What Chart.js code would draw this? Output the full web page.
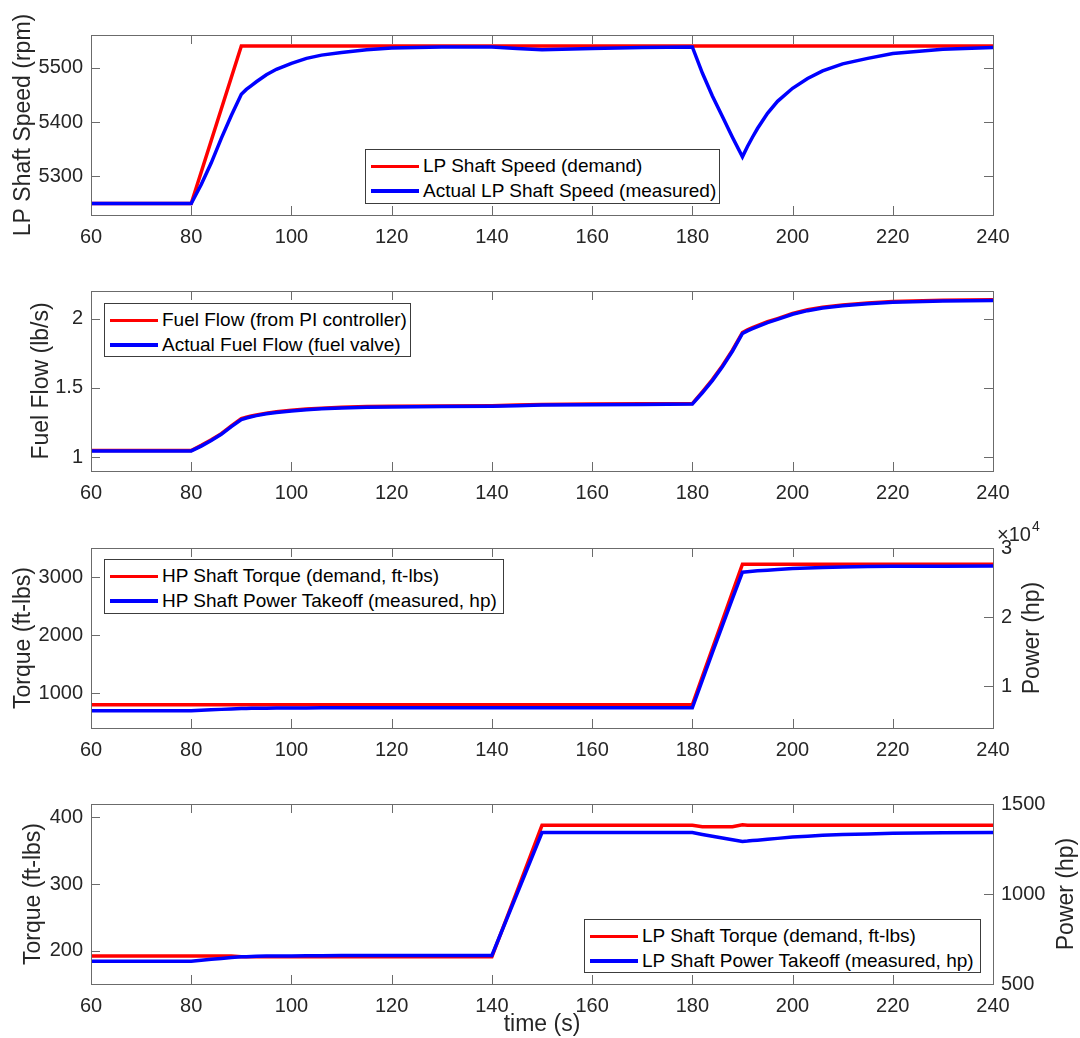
<!DOCTYPE html>
<html>
<head>
<meta charset="utf-8">
<script src="https://cdn.jsdelivr.net/npm/chart.js@4.4.1/dist/chart.umd.min.js"></script>
<style>
body { margin: 0; width: 1080px; height: 1038px; overflow: hidden; background: #fff; position: relative;
       font-family: "Liberation Sans", Arial, Helvetica, sans-serif; }
.legend { position: absolute; box-sizing: border-box; border: 1px solid #3c3c3c; background: #fff;
          padding-top: 4px; font-size: 19px; color: #000; z-index: 5; }
.legend .row { display: flex; align-items: center; height: 24.5px; padding-left: 5px; white-space: nowrap; }
.legend .swatch { width: 48px; height: 3.5px; margin-right: 4px; flex: none; }
</style>
</head>
<body>
<script>
// sample times (s), shared by every series
const time = [60, 80, 82, 84, 86, 88, 90, 91, 92, 93, 95, 97, 100, 103, 106, 110, 115, 120, 130, 140,
              145, 150, 160, 170, 180, 182, 184, 186, 188, 190, 191, 192, 193, 195, 197, 200, 203, 206,
              210, 215, 220, 230, 240];

const speedLabels = ['LP Shaft Speed (demand)', 'Actual LP Shaft Speed (measured)'];
const speedDemand = [5250, 5250, 5308, 5366, 5424, 5482, 5540, 5540, 5540, 5540, 5540, 5540, 5540, 5540,
                     5540, 5540, 5540, 5540, 5540, 5540, 5540, 5540, 5540, 5540, 5540, 5540, 5540, 5540,
                     5540, 5540, 5540, 5540, 5540, 5540, 5540, 5540, 5540, 5540, 5540, 5540, 5540, 5540, 5540];
const speedActual = [5250, 5250, 5285, 5325, 5370, 5412, 5451, 5460, 5467, 5474, 5487, 5497, 5508, 5517,
                     5523, 5528, 5533, 5536, 5538, 5538, 5535, 5533, 5535, 5537, 5538, 5490, 5448, 5410,
                     5372, 5336, 5355, 5372, 5388, 5416, 5438, 5462, 5480, 5494, 5507, 5517, 5526, 5534, 5537];

const fuelLabels = ['Fuel Flow (from PI controller)', 'Actual Fuel Flow (fuel valve)'];
const fuelDemand = [1.048, 1.048, 1.085, 1.125, 1.17, 1.226, 1.278, 1.289, 1.297, 1.305, 1.318, 1.328, 1.338,
                    1.347, 1.354, 1.36, 1.365, 1.368, 1.37, 1.372, 1.376, 1.38, 1.383, 1.385, 1.387, 1.472,
                    1.56, 1.66, 1.773, 1.9, 1.919, 1.935, 1.95, 1.978, 2.001, 2.038, 2.064, 2.083, 2.099,
                    2.114, 2.124, 2.133, 2.137];
const fuelActual = [1.045, 1.045, 1.08, 1.12, 1.165, 1.22, 1.272, 1.283, 1.292, 1.3, 1.313, 1.323, 1.333,
                    1.342, 1.349, 1.355, 1.36, 1.363, 1.366, 1.368, 1.372, 1.376, 1.379, 1.381, 1.383, 1.465,
                    1.553, 1.652, 1.765, 1.893, 1.912, 1.928, 1.943, 1.972, 1.995, 2.032, 2.058, 2.077, 2.093,
                    2.108, 2.118, 2.127, 2.131];

const hpLabels = ['HP Shaft Torque (demand, ft-lbs)', 'HP Shaft Power Takeoff (measured, hp)'];
const hpTorque = [800, 800, 800, 800, 800, 800, 800, 800, 800, 800, 800, 800, 800, 800, 800, 800, 800, 800,
                  800, 800, 800, 800, 800, 800, 800, 1284, 1768, 2252, 2736, 3220, 3220, 3220, 3220, 3220,
                  3220, 3220, 3220, 3220, 3220, 3220, 3220, 3220, 3220];
const hpPower = [6500, 6500, 6560, 6620, 6690, 6760, 6810, 6820, 6840, 6850, 6870, 6885, 6900, 6905, 6910,
                 6915, 6918, 6920, 6920, 6920, 6920, 6920, 6920, 6920, 6920, 10900, 14900, 18800, 22700,
                 26500, 26570, 26640, 26700, 26800, 26900, 27030, 27120, 27190, 27260, 27310, 27350, 27380, 27400];

const lpLabels = ['LP Shaft Torque (demand, ft-lbs)', 'LP Shaft Power Takeoff (measured, hp)'];
const lpTorque = [192, 192, 192, 192, 192, 192, 191, 191, 191, 191, 191, 191, 191, 191, 191, 191, 191, 191,
                  191, 191, 289, 388, 388, 388, 388, 386, 386, 386, 386, 389, 388, 388, 388, 388, 388, 388,
                  388, 388, 388, 388, 388, 388, 388];
const lpPower = [627, 627, 632, 637, 642, 647, 651, 652, 653, 654, 655, 655, 656, 657, 657, 658, 658, 659, 659,
                 659, 1000, 1341, 1341, 1341, 1341, 1331, 1321, 1311, 1301, 1292, 1294, 1297, 1299, 1304, 1309,
                 1316, 1321, 1326, 1330, 1334, 1337, 1340, 1341];

const xTicks = [60, 80, 100, 120, 140, 160, 180, 200, 220, 240];
const speedTicks = [5300, 5400, 5500];
const fuelTicks = [1, 1.5, 2];
const hpTorqueTicks = [1000, 2000, 3000];
const hpPowerTicks = [10000, 20000, 30000];
const lpTorqueTicks = [200, 300, 400];
const lpPowerTicks = [500, 1000, 1500];

const RED = '#ff0000';
const BLUE = '#0000ff';
const INK = '#262626';
const EDGE = '#6b6b6b';
Chart.defaults.font.family = '"Liberation Sans", Arial, Helvetica, sans-serif';
Chart.defaults.color = INK;

const series = values => time.map((t, i) => ({ x: t, y: values[i] }));

const line = (label, values, color, axis, order) => ({
    label, data: series(values), borderColor: color, backgroundColor: color,
    borderWidth: 3.5, pointRadius: 0, tension: 0, yAxisID: axis, order
});

const xScale = (h, title) => ({
    type: 'linear', min: 60, max: 240,
    grid: { display: false, drawTicks: false }, border: { display: false },
    afterBuildTicks: s => { s.ticks = xTicks.map(v => ({ value: v })); },
    afterFit: s => { s.height = h; },
    ticks: { callback: v => String(v), font: { size: 20 }, color: INK, padding: 10, maxRotation: 0, autoSkip: false },
    title: title ? { display: true, text: title, font: { size: 23 }, color: INK, padding: { top: 0, bottom: 0 } }
                 : { display: false }
});

const yScale = (position, min, max, values, title, pad, fmt) => ({
    type: 'linear', position, min, max,
    grid: { display: false, drawTicks: false }, border: { display: false },
    afterBuildTicks: s => { s.ticks = values.map(v => ({ value: v })); },
    afterFit: s => { s.width = position === 'left' ? 91 : 87; },
    ticks: { callback: fmt || (v => String(v)), font: { size: 20 }, color: INK, padding: 8, autoSkip: false },
    title: title ? { display: true, text: title, font: { size: 23 }, color: INK, padding: { top: pad, bottom: 0 } }
                 : { display: false }
});

// MATLAB style box, inward ticks, right-hand label and exponent
const matlabAxes = {
    id: 'matlab',
    afterDatasetsDraw(chart, args, opts) {
        const { ctx, chartArea: a } = chart;
        const len = 9;
        const x = chart.scales.x, yl = chart.scales.y, yr = chart.scales.y1;
        ctx.save();
        ctx.strokeStyle = EDGE;
        ctx.lineWidth = 1;
        ctx.beginPath();
        x.ticks.forEach(t => {
            const px = Math.round(x.getPixelForValue(t.value)) + 0.5;
            ctx.moveTo(px, a.bottom); ctx.lineTo(px, a.bottom - len);
            ctx.moveTo(px, a.top); ctx.lineTo(px, a.top + len);
        });
        yl.ticks.forEach(t => {
            const py = Math.round(yl.getPixelForValue(t.value)) + 0.5;
            ctx.moveTo(a.left, py); ctx.lineTo(a.left + len, py);
            if (!yr) { ctx.moveTo(a.right, py); ctx.lineTo(a.right - len, py); }
        });
        if (yr) {
            yr.ticks.forEach(t => {
                const py = Math.round(yr.getPixelForValue(t.value)) + 0.5;
                ctx.moveTo(a.right, py); ctx.lineTo(a.right - len, py);
            });
        }
        ctx.stroke();
        ctx.strokeRect(a.left + 0.5, a.top + 0.5, a.right - a.left, a.bottom - a.top);

        ctx.fillStyle = INK;
        if (opts.rightTitle) {
            ctx.translate(a.right + opts.rightOffset, (a.top + a.bottom) / 2);
            ctx.rotate(-Math.PI / 2);
            ctx.font = '23px "Liberation Sans", Arial, sans-serif';
            ctx.textAlign = 'center';
            ctx.textBaseline = 'middle';
            ctx.fillText(opts.rightTitle, 0, 0);
            ctx.setTransform(1, 0, 0, 1, 0, 0);
        }
        if (opts.exponent) {
            ctx.textAlign = 'left';
            ctx.textBaseline = 'alphabetic';
            ctx.font = '20px "Liberation Sans", Arial, sans-serif';
            const base = '\u00d710';
            ctx.fillText(base, a.right + 4, a.top - 7);
            const w = ctx.measureText(base).width;
            ctx.font = '14px "Liberation Sans", Arial, sans-serif';
            ctx.fillText(opts.exponent, a.right + 5 + w, a.top - 17);
        }
        ctx.restore();
    }
};

function panel(top, height) {
    const c = document.createElement('canvas');
    c.width = 1080;
    c.height = height;
    c.style.cssText = `position:absolute;left:0;top:${top}px;`;
    document.body.appendChild(c);
    return c.getContext('2d');
}

function makeChart(ctx, datasets, scales, padRight, matlab) {
    return new Chart(ctx, {
        type: 'line',
        data: { datasets },
        options: {
            responsive: false,
            animation: false,
            devicePixelRatio: 1,
            layout: { padding: { top: 30, left: 0, bottom: 0, right: padRight } },
            scales,
            plugins: { legend: { display: false }, tooltip: { enabled: false }, matlab: matlab || {} }
        },
        plugins: [matlabAxes]
    });
}

function addLegend(chart, left, top, width, height) {
    const box = document.createElement('div');
    box.className = 'legend';
    box.style.cssText = `left:${left}px;top:${top}px;width:${width}px;height:${height}px;`;
    [...chart.data.datasets].sort((p, q) => q.order - p.order).forEach(ds => {
        const row = document.createElement('div');
        row.className = 'row';
        row.innerHTML = `<span class="swatch" style="background:${ds.borderColor}"></span><span>${ds.label}</span>`;
        box.appendChild(row);
    });
    document.body.appendChild(box);
}

const c1 = makeChart(panel(5, 250), [
    line(speedLabels[0], speedDemand, RED, 'y', 1),
    line(speedLabels[1], speedActual, BLUE, 'y', 0)
], {
    x: xScale(40),
    y: yScale('left', 5229, 5560, speedTicks, 'LP Shaft Speed (rpm)', 10)
}, 87);

const c2 = makeChart(panel(261, 250), [
    line(fuelLabels[0], fuelDemand, RED, 'y', 1),
    line(fuelLabels[1], fuelActual, BLUE, 'y', 0)
], {
    x: xScale(40),
    y: yScale('left', 0.9, 2.2, fuelTicks, 'Fuel Flow (lb/s)', 28)
}, 87);

const c3 = makeChart(panel(518, 250), [
    line(hpLabels[0], hpTorque, RED, 'y', 1),
    line(hpLabels[1], hpPower, BLUE, 'y1', 0)
], {
    x: xScale(40),
    y: yScale('left', 400, 3500, hpTorqueTicks, 'Torque (ft-lbs)', 10),
    y1: yScale('right', 4000, 30000, hpPowerTicks, null, 0, v => String(v / 10000))
}, 0, { rightTitle: 'Power (hp)', rightOffset: 40, exponent: '4' });

const c4 = makeChart(panel(774, 264), [
    line(lpLabels[0], lpTorque, RED, 'y', 1),
    line(lpLabels[1], lpPower, BLUE, 'y1', 0)
], {
    x: xScale(54, 'time (s)'),
    y: yScale('left', 150, 420, lpTorqueTicks, 'Torque (ft-lbs)', 20),
    y1: yScale('right', 500, 1500, lpPowerTicks, null, 0)
}, 0, { rightTitle: 'Power (hp)', rightOffset: 74 });

addLegend(c1, 365, 149, 355, 55);
addLegend(c2, 104, 303, 307, 54);
addLegend(c3, 104, 559, 400, 55);
addLegend(c4, 584, 919, 397, 54);
</script>
</body>
</html>
